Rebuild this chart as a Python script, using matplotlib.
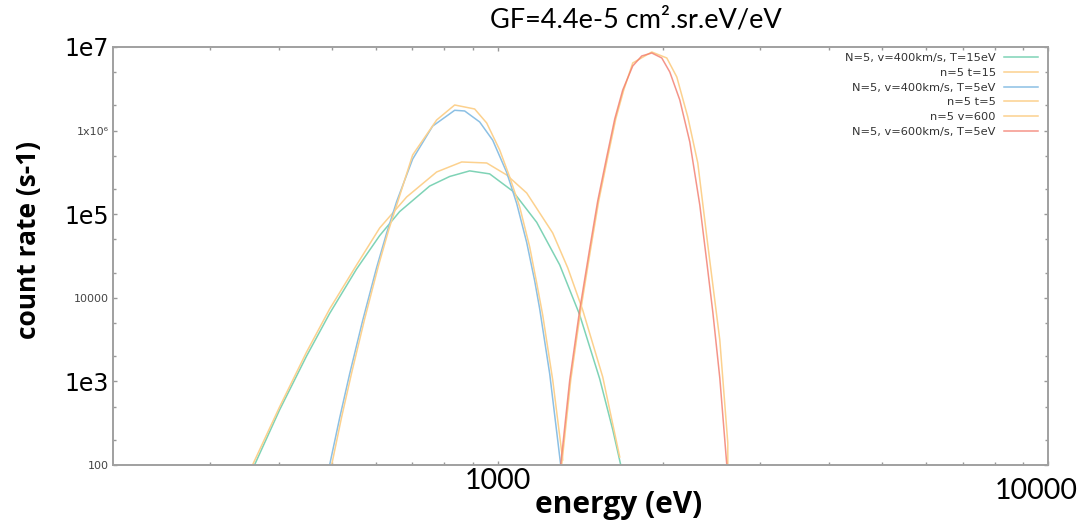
import numpy as np
import matplotlib.pyplot as plt
from matplotlib.transforms import ScaledTranslation

# energies (eV) and count rates (s-1)
e_v400_t15 = [361.5, 401.4, 449.5, 495.0, 554.1, 610.3, 663.5, 752.2, 818.0, 889.4, 967.0, 1064.8, 1177.3,
              1296.3, 1409.4, 1532.5, 1618.3, 1673.4]
c_v400_t15 = [100, 454.9, 2013, 6490, 22110, 55460, 107400, 216900, 282500, 329600, 303500, 188900, 80010,
              24750, 6245, 1071, 265.1, 100]

e_n5_t15 = [358.5, 401.4, 449.5, 495.0, 554.1, 610.3, 683.2, 774.6, 860.1, 955.0, 1038.4, 1129.0, 1258.9,
            1340.9, 1427.2, 1552.0, 1666.4]
c_n5_t15 = [100, 494.0, 2247, 7345, 24680, 68360, 160600, 319800, 421200, 409700, 294400, 179300, 59600,
            22730, 7146, 1129, 124.7]

e_v400_t5 = [495.0, 516.2, 538.2, 568.3, 602.6, 628.4, 655.3, 700.6, 761.8, 835.3, 871.0, 927.4, 979.3,
             1038.4, 1082.7, 1129.0, 1167.4, 1192.1, 1243.1, 1301.7]
c_v400_t5 = [100, 365, 1226, 5322, 23040, 59600, 141900, 456200, 1132000, 1749000, 1716000, 1268000, 767900,
             316200, 134600, 46000, 15970, 7386, 1233, 100]

e_n5_t5 = [499.2, 520.5, 542.7, 573.1, 607.7, 633.7, 660.7, 700.6, 774.6, 835.3, 908.1, 955.0, 1008.4, 1051.5,
           1096.5, 1143.3, 1177.3, 1207.2, 1258.9, 1312.6]
c_n5_t5 = [100, 375.2, 1260, 5577, 24680, 64710, 152000, 510700, 1339000, 2024000, 1813000, 1233000, 586100,
           278600, 122000, 40520, 15030, 6229, 1039, 114.8]

e_n5_v600 = [1307.1, 1357.6, 1415.4, 1476.5, 1526.2, 1584.9, 1638.8, 1694.6, 1759.6, 1905.5, 2029.0, 2115.8,
             2215.5, 2310.1, 2409.0, 2533.0, 2619.2, 2619.2]
c_n5_v600 = [100, 1039, 7146, 39420, 143900, 483300, 1376000, 3059000, 6436000, 8712000, 7387000, 4377000,
             1455000, 409700, 42810, 3127, 183.3, 100]

e_v600_t5 = [1301.7, 1351.9, 1409.4, 1470.3, 1519.8, 1578.2, 1632.0, 1687.5, 1759.6, 1827.2, 1905.5, 1987.0,
             2054.7, 2142.6, 2234.2, 2329.6, 2398.8, 2459.9, 2533.0, 2608.3]
c_v600_t5 = [100, 1039, 7146, 39420, 143900, 483300, 1376000, 3059000, 5926000, 7806000, 8475000, 7387000,
             5023000, 2323000, 730500, 128800, 26810, 6762, 1098, 100]

ytick_vals = [100, 1e3, 1e4, 1e5, 1e6, 1e7]
ytick_text = ['100', '1e3', '10000', '1e5', '1x10⁶', '1e7']
ytick_big = [False, True, False, True, False, True]
xtick_vals = [1000, 10000]
xtick_text = ['1000', '10000']

green = '#7fd3b6'
orange = '#fcd18e'
blue = '#8cc0e4'
red = '#f27a6c'

fig = plt.figure(figsize=(10.87, 5.22), dpi=100)
ax = fig.add_axes([0.104, 0.1092, 0.8601, 0.8008])

ax.plot(e_v400_t15, c_v400_t15, color=green, lw=1.1, label='N=5, v=400km/s, T=15eV')
ax.plot(e_n5_t15, c_n5_t15, color=orange, lw=1.1, label='n=5 t=15')
ax.plot(e_v400_t5, c_v400_t5, color=blue, lw=1.1, label='N=5, v=400km/s, T=5eV')
ax.plot(e_n5_t5, c_n5_t5, color=orange, lw=1.1, label='n=5 t=5')
ax.plot(e_n5_v600, c_n5_v600, color=orange, lw=1.1, label='n=5 v=600')
ax.plot(e_v600_t5, c_v600_t5, color=red, lw=1.1, alpha=0.8, label='N=5, v=600km/s, T=5eV')

ax.set_xscale('log')
ax.set_yscale('log')
ax.set_xlim(200, 10000)
ax.set_ylim(100, 1e7)

for s in ax.spines.values():
    s.set_color('#a0a0a0')
    s.set_linewidth(1.4)

ax.set_xticks(xtick_vals)
ax.set_xticklabels(xtick_text, fontfamily='Lato', fontsize=20.5, color='black')
ax.set_xticks([300, 400, 500, 600, 700, 800, 900, 2000, 3000, 4000, 5000, 6000, 7000, 8000, 9000], minor=True)
ax.set_xticklabels([], minor=True)
ax.set_yticks(ytick_vals)
ax.set_yticklabels(ytick_text)
ax.set_yticks([200, 500, 2000, 5000, 2e4, 5e4, 2e5, 5e5, 2e6, 5e6], minor=True)
ax.set_yticklabels([], minor=True)
for lab, big in zip(ax.get_yticklabels(), ytick_big):
    if big:
        lab.set_fontsize(17)
        lab.set_color('black')
    else:
        lab.set_fontsize(8)
        lab.set_color('#444444')

ax.tick_params(which='both', direction='in', top=True, right=True, color='#999999', width=1)
ax.tick_params(which='major', length=3, pad=3)
ax.tick_params(which='minor', length=2)
ax.tick_params(axis='x', which='major', pad=2)

# the 10000 label sits lower than the 1000 one in the reference
ax.get_xticklabels()[1].set_transform(ax.get_xticklabels()[1].get_transform()
                                      + ScaledTranslation(-0.12, -0.1, fig.dpi_scale_trans))

fig.text(0.585, 0.962, 'GF=4.4e-5 cm².sr.eV/eV', fontfamily='Lato', fontsize=19.5,
         ha='center', va='center')
fig.text(0.026, 0.54, 'count rate (s-1)', fontfamily='Open Sans', fontweight='bold', fontsize=19,
         rotation=90, ha='center', va='center')
fig.text(0.569, 0.033, 'energy (eV)', fontfamily='Open Sans', fontweight='bold', fontsize=21.5,
         ha='center', va='center')

leg = ax.legend(loc='upper right', bbox_to_anchor=(0.9893, 0.9856), frameon=False, markerfirst=False,
                fontsize=8.2, labelspacing=0.42, handlelength=3, handletextpad=0.7,
                borderpad=0, borderaxespad=0)
for t in leg.get_texts():
    t.set_color('#333333')

fig.savefig('out.png', dpi=100)
